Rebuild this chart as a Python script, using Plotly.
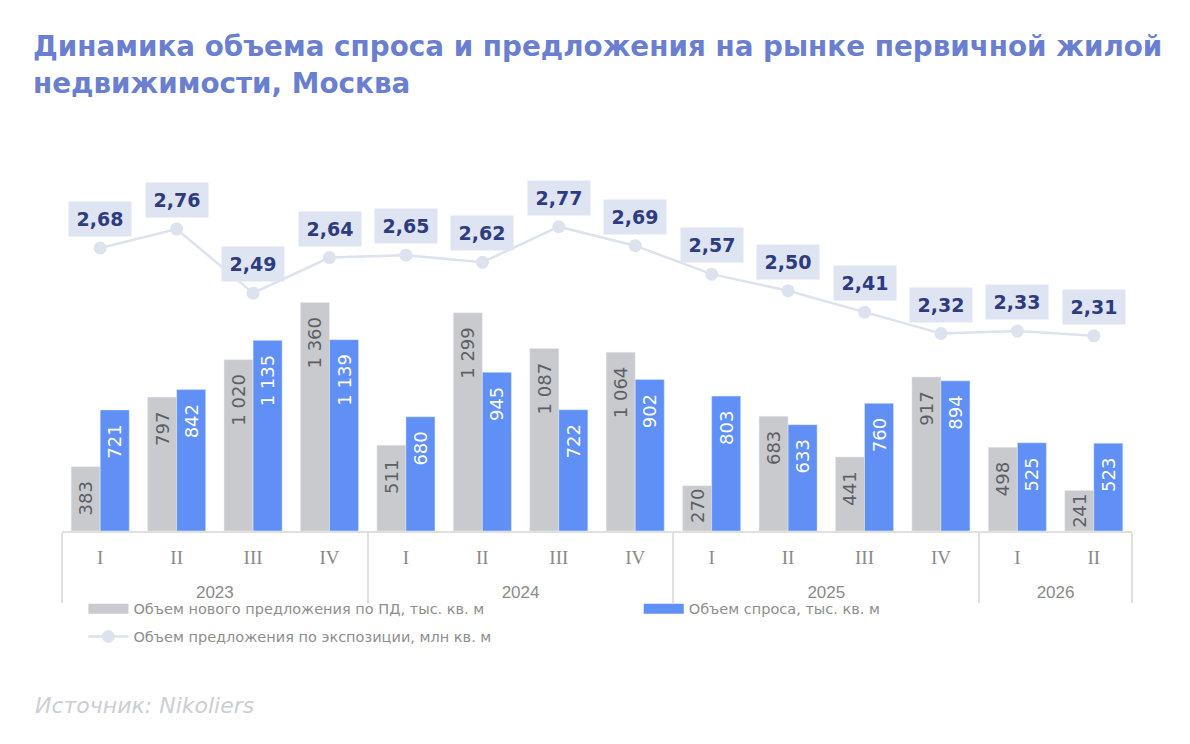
import plotly.graph_objects as go

# quarters / years
years = ["2023"] * 4 + ["2024"] * 4 + ["2025"] * 4 + ["2026"] * 2
quarters = ["I", "II", "III", "IV"] * 3 + ["I", "II"]

# values
new_supply = [383, 797, 1020, 1360, 511, 1299, 1087, 1064, 270, 683, 441, 917, 498, 241]
demand = [721, 842, 1135, 1139, 680, 945, 722, 902, 803, 633, 760, 894, 525, 523]
exposure = [2.68, 2.76, 2.49, 2.64, 2.65, 2.62, 2.77, 2.69, 2.57, 2.50, 2.41, 2.32, 2.33, 2.31]

name_new = "Объем нового предложения по ПД, тыс. кв. м"
name_demand = "Объем спроса, тыс. кв. м"
name_exp = "Объем предложения по экспозиции, млн кв. м"

GREY = "#c9cacd"
BLUE = "#6090f5"
LINE = "#dde2ef"

# serif quarter labels; the empty second line pushes the year row down
q_labels = ['<span style="font-family:Liberation Serif;font-size:19px">%s</span><br>\u00a0' % q
            for q in quarters]
x = [years, q_labels]


def bar_text(vals):
    # short bars get no extra padding so the label stays inside
    pad = "\u00a0\u00a0"
    return ["%{y:,.0f}" + (pad if v > 300 else "") for v in vals]


fig = go.Figure()

fig.add_trace(go.Bar(
    x=x, y=new_supply, name=name_new, marker_color=GREY, showlegend=False,
    texttemplate=bar_text(new_supply), textposition="inside", insidetextanchor="end",
    textangle=-90, constraintext="none",
    textfont=dict(family="DejaVu Sans", size=18, color="#5c5f65"),
))
fig.add_trace(go.Bar(
    x=x, y=demand, name=name_demand, marker_color=BLUE, showlegend=False,
    texttemplate=bar_text(demand), textposition="inside", insidetextanchor="end",
    textangle=-90, constraintext="none",
    textfont=dict(family="DejaVu Sans", size=18, color="white"),
))
fig.add_trace(go.Scatter(
    x=x, y=exposure, name=name_exp, yaxis="y2", mode="lines+markers",
    line=dict(color=LINE, width=2.5), marker=dict(color=LINE, size=13),
    legend="legend", legendgroup="b", legendrank=2,
))

# legend-only entries drawn as thick strokes
empty = [None] * len(years)
fig.add_trace(go.Scatter(x=x, y=empty, name=name_new, mode="lines",
                         line=dict(color=GREY, width=10), legend="legend",
                         legendgroup="a", legendrank=1))
fig.add_trace(go.Scatter(x=x, y=empty, name=name_demand, mode="lines",
                         line=dict(color=BLUE, width=10), legend="legend2"))

# value boxes above the line
for i, v in enumerate(exposure):
    fig.add_annotation(
        x=i, y=v, xref="x", yref="y2", yshift=29,
        text="<b>%s</b>" % f"{v:.2f}".replace(".", ","),
        showarrow=False, bgcolor="#dfe4f2", width=60, height=32,
        font=dict(family="DejaVu Sans", size=19, color="#2d3b80"),
    )

fig.add_annotation(
    x=-0.027, y=-0.457, xref="paper", yref="paper", xanchor="left", yanchor="middle",
    text="<i>Источник: Nikoliers</i>", showarrow=False,
    font=dict(family="DejaVu Sans", size=22, color="#cbced4"),
)

legend_style = dict(
    orientation="v", yanchor="top", xanchor="left", y=-0.162,
    font=dict(family="DejaVu Sans", size=14.5, color="#8e8e8e"),
    itemwidth=40, bgcolor="rgba(0,0,0,0)", tracegroupgap=6,
)

fig.update_layout(
    width=1190, height=744,
    margin=dict(l=54, r=66, t=142, b=221),
    paper_bgcolor="white", plot_bgcolor="white",
    separators=", ",
    barmode="group", bargap=0.24, bargroupgap=0,
    title=dict(
        text="Динамика объема спроса и предложения на рынке первичной жилой<br>недвижимости, Москва",
        x=25 / 1190, xanchor="left", y=0.935, yanchor="top",
        font=dict(family="DejaVu Sans", size=27.8, color="#6b7fd1", weight="bold"),
    ),
    xaxis=dict(
        type="multicategory", range=[-0.5, 13.5],
        showline=True, linecolor="#e0e0e0", linewidth=1.5,
        showgrid=False, ticks="", dividercolor="#e0e0e0", dividerwidth=1.5,
        ticklabelstandoff=11,
        tickfont=dict(family="Liberation Sans", size=17, color="#8a8a8a"),
    ),
    yaxis=dict(range=[0, 2268], visible=False, showgrid=False),
    yaxis2=dict(range=[1.488, 3.093], overlaying="y", visible=False, showgrid=False),
    legend=dict(legend_style, x=0.02),
    legend2=dict(legend_style, x=0.539),
    showlegend=True,
)

fig.write_html("out.html")
